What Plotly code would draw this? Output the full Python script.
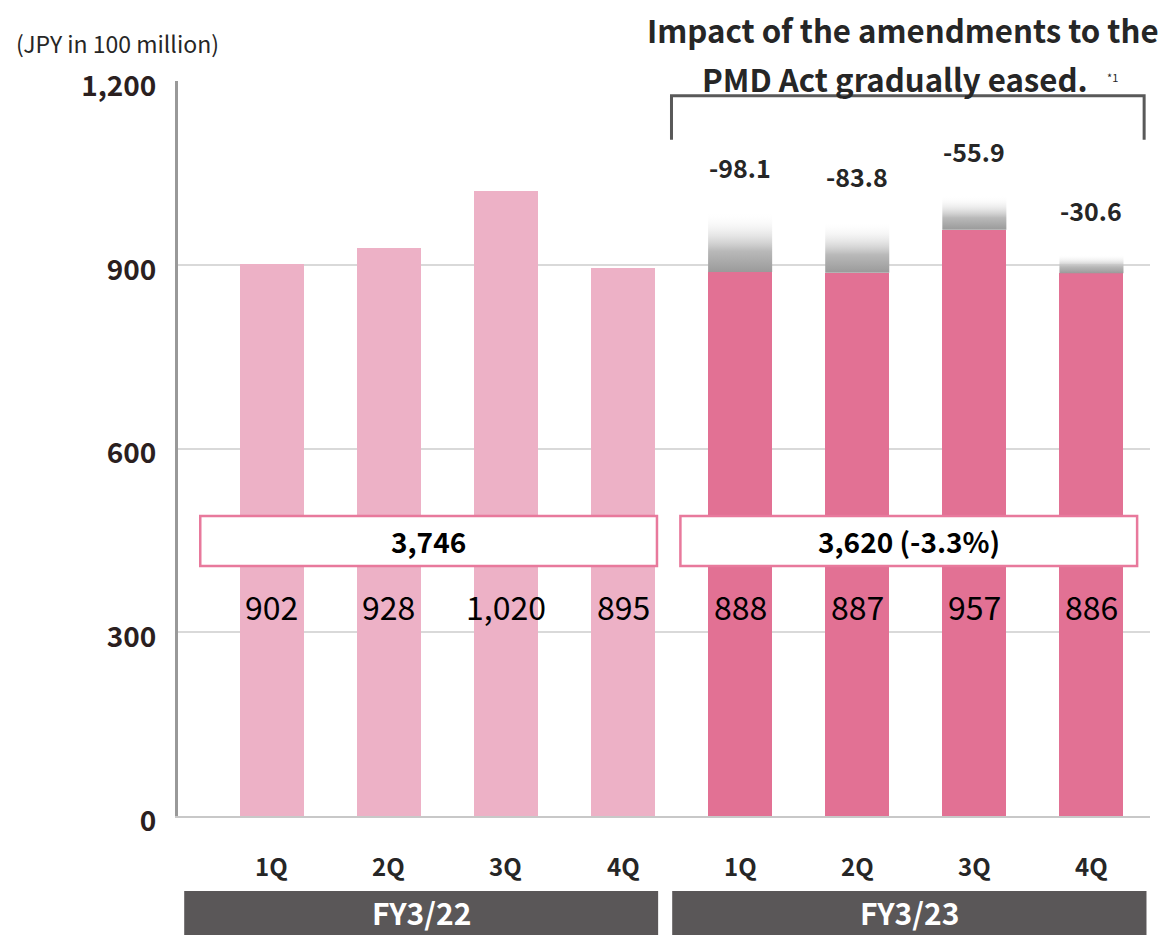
import plotly.graph_objects as go

# ---- data ----
quarters = ["1Q", "2Q", "3Q", "4Q", "1Q", "2Q", "3Q", "4Q"]
fiscal_years = ["FY3/22", "FY3/23"]
sales_fy22 = [902, 928, 1020, 895]
sales_fy23 = [888, 887, 957, 886]
impact_fy23 = [98.1, 83.8, 55.9, 30.6]
impact_labels = ["-98.1", "-83.8", "-55.9", "-30.6"]
value_labels = ["902", "928", "1,020", "895", "888", "887", "957", "886"]
total_labels = ["3,746", "3,620 (-3.3%)"]
y_ticks = [0, 300, 600, 900, 1200]
y_tick_labels = ["0", "300", "600", "900", "1,200"]

# ---- style ----
FONT = "Noto Sans CJK JP"
DARK = "#262626"
TICK_COLOR = "#2b1f1f"
LIGHT_PINK = "#EDB1C6"
DARK_PINK = "#E27194"
BOX_BORDER = "#E8799C"
GROUP_GREY = "#5A5758"
BAR_W = 0.547
VALUE_LABEL_Y = 343
TOTAL_BOX_Y = (408, 490)
TOTAL_BOX_X = [(-0.61, 3.29), (3.49, 7.39)]
GROUP_BOX_X = [(-0.747, 3.30), (3.42, 7.47)]

x_all = list(range(len(quarters)))
x22 = x_all[:4]
x23 = x_all[4:]

fig = go.Figure()
fig.add_trace(go.Bar(x=x22, y=sales_fy22, width=BAR_W, marker=dict(color=LIGHT_PINK, line=dict(width=0)),
                     hoverinfo="skip", showlegend=False))
fig.add_trace(go.Bar(x=x23, y=sales_fy23, width=BAR_W, marker=dict(color=DARK_PINK, line=dict(width=0)),
                     hoverinfo="skip", showlegend=False))

# gradient impact segments
for xi, base, imp in zip(x23, sales_fy23, impact_fy23):
    x0, x1 = xi - BAR_W / 2, xi + BAR_W / 2
    top = base + imp
    fig.add_trace(go.Scatter(
        x=[x0, x1, x1, x0, x0], y=[base, base, top, top, base],
        mode="lines", fill="toself", line=dict(width=0, color="rgba(0,0,0,0)"),
        fillgradient=dict(type="vertical",
                          colorscale=[[0, "#9a9a9a"], [0.35, "#b9b9b9"], [1, "rgba(255,255,255,0)"]]),
        hoverinfo="skip", showlegend=False))

annotations = []
# impact labels
for xi, base, imp, lab in zip(x23, sales_fy23, impact_fy23, impact_labels):
    annotations.append(dict(x=xi, y=base + imp, xref="x", yref="y", text=lab, showarrow=False,
                            yshift=45, font=dict(family=FONT, size=25, color=DARK, weight="bold")))
# value labels
for xi, lab in zip(x_all, value_labels):
    annotations.append(dict(x=xi, y=VALUE_LABEL_Y, xref="x", yref="y", text=lab, showarrow=False,
                            font=dict(family=FONT, size=32, color="#000000")))
# quarter labels
for xi, lab in zip(x_all, quarters):
    annotations.append(dict(x=xi, y=-0.0667, xref="x", yref="paper", text=lab, showarrow=False,
                            yanchor="middle", font=dict(family=FONT, size=24, color=DARK, weight="bold")))

shapes = []
# total boxes
for (bx0, bx1), lab in zip(TOTAL_BOX_X, total_labels):
    shapes.append(dict(type="rect", xref="x", yref="y", x0=bx0, x1=bx1, y0=TOTAL_BOX_Y[0], y1=TOTAL_BOX_Y[1],
                       fillcolor="white", line=dict(color=BOX_BORDER, width=2.5), layer="above"))
    annotations.append(dict(x=(bx0 + bx1) / 2, y=sum(TOTAL_BOX_Y) / 2, xref="x", yref="y", text=lab,
                            showarrow=False, font=dict(family=FONT, size=28, color="#000000", weight="bold")))
# fiscal year boxes
for (gx0, gx1), lab in zip(GROUP_BOX_X, fiscal_years):
    shapes.append(dict(type="rect", xref="x", yref="paper", x0=gx0, x1=gx1, y0=-0.175, y1=-0.102,
                       fillcolor=GROUP_GREY, line=dict(width=0), layer="above"))
    annotations.append(dict(x=(gx0 + gx1) / 2, y=-0.1306, xref="x", yref="paper", text=lab, showarrow=False,
                            yanchor="middle", font=dict(family=FONT, size=30, color="white", weight="bold")))

# bracket
shapes.append(dict(type="path", xref="x", yref="y",
                   path="M 3.414 1104 L 3.414 1176 L 7.45 1176 L 7.45 1104",
                   line=dict(color="#595959", width=3)))

# title and unit
annotations.append(dict(x=0.746, y=1.070, xref="paper", yref="paper", text="Impact of the amendments to the",
                        showarrow=False, xanchor="center", yanchor="middle", borderpad=0,
                        font=dict(family=FONT, size=31.2, color=DARK, weight="bold")))
annotations.append(dict(x=0.7377, y=1.004, xref="paper", yref="paper", text="PMD Act gradually eased.",
                        showarrow=False, xanchor="center", yanchor="middle", borderpad=0,
                        font=dict(family=FONT, size=31.2, color=DARK, weight="bold")))
annotations.append(dict(x=0.961, y=1.005, xref="paper", yref="paper", text="*1",
                        showarrow=False, xanchor="center", yanchor="middle",
                        font=dict(family=FONT, size=11, color=DARK)))
annotations.append(dict(x=-0.169, y=1.052, xref="paper", yref="paper", text="(JPY in 100 million)",
                        showarrow=False, xanchor="left", yanchor="middle",
                        font=dict(family=FONT, size=23, color=DARK)))

# the page body adds an 8px margin, so the figure is 8px smaller and shifted
fig.update_layout(
    width=1163, height=927,
    margin=dict(l=170, r=21, t=73, b=119),
    plot_bgcolor="white", paper_bgcolor="white",
    bargap=0,
    xaxis=dict(range=[-0.8, 7.5], showticklabels=False, showgrid=False, zeroline=False,
               showline=True, linecolor="#c8c8c8", linewidth=2, fixedrange=True),
    yaxis=dict(range=[0, 1200], tickvals=y_ticks, ticktext=y_tick_labels, showgrid=True,
               gridcolor="#d9d9d9", gridwidth=2, zeroline=False, showline=True, linecolor="#999999",
               linewidth=3, ticklabelstandoff=13, ticklabelshift=5,
               tickfont=dict(family=FONT, size=28, color=TICK_COLOR, weight="bold"), fixedrange=True),
    shapes=shapes,
    annotations=annotations,
)

fig.write_html("out.html")
